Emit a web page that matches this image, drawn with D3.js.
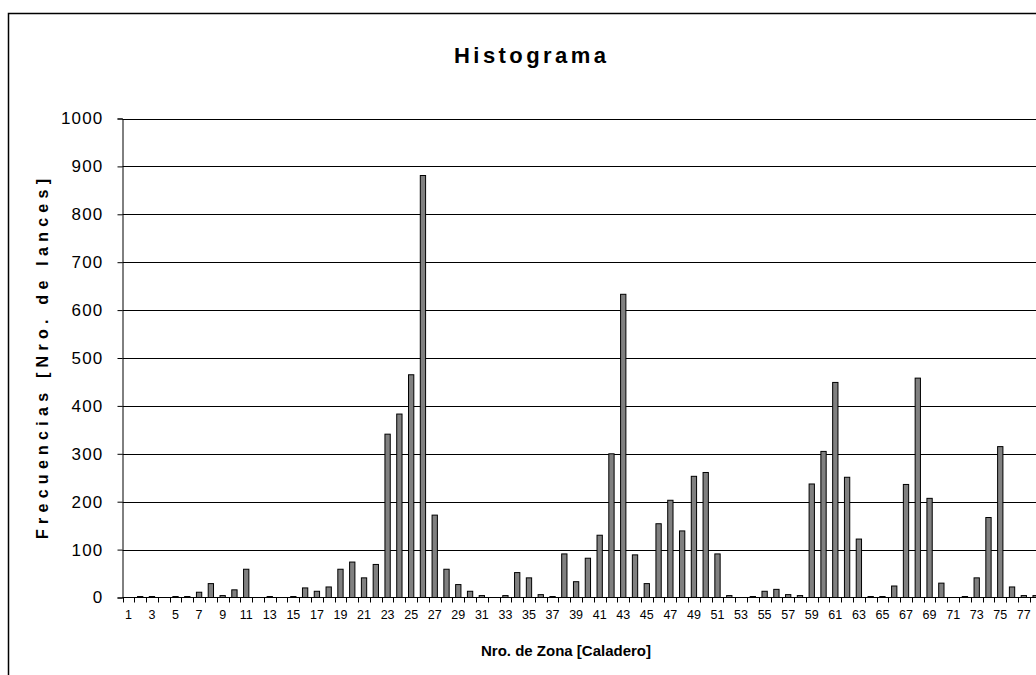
<!DOCTYPE html>
<html>
<head>
<meta charset="utf-8">
<script src="https://cdn.jsdelivr.net/npm/d3@7"></script>
<style>
  html, body { margin: 0; padding: 0; background: #fff; overflow: hidden; }
  svg { display: block; font-family: Arial, "Liberation Sans", sans-serif; }
</style>
</head>
<body>
<svg id="chart" width="1036" height="675"></svg>
<script>
// ---- data ----
const zonas = [1,2,3,4,5,6,7,8,9,10,11,12,13,14,15,16,17,18,19,20,21,22,23,24,25,26,27,28,29,30,31,32,33,34,35,36,37,38,39,40,41,42,43,44,45,46,47,48,49,50,51,52,53,54,55,56,57,58,59,60,61,62,63,64,65,66,67,68,69,70,71,72,73,74,75,76,77,78];
const frecuencias = [0,2,2,0,2,2,11,29,4,16,59,0,2,0,2,20,13,22,59,74,41,69,341,383,465,881,172,59,27,13,4,0,4,52,41,6,2,91,33,82,130,300,633,89,29,154,203,139,253,261,91,4,0,2,13,17,6,4,237,305,449,251,122,2,2,24,236,458,207,30,0,2,41,167,315,22,4,4];
const yTicks = [0,100,200,300,400,500,600,700,800,900,1000];
const xTickLabels = [1,3,5,7,9,11,13,15,17,19,21,23,25,27,29,31,33,35,37,39,41,43,45,47,49,51,53,55,57,59,61,63,65,67,69,71,73,75,77];
const titulo = "Histograma";
const tituloX = "Nro. de Zona [Caladero]";
const tituloY = "Frecuencias [Nro. de lances]";

// ---- layout ----
const svg = d3.select("#chart");
const pLeft = 122.5, pRight = 1041.5, pTop = 118.5, pBottom = 597.5;
const FONT = "Arial, 'Liberation Sans', sans-serif";

svg.append("rect").attr("x", 0).attr("y", 0).attr("width", 1036).attr("height", 675).attr("fill", "#fff");
svg.append("rect").attr("x", 8.5).attr("y", 13.5).attr("width", 1200).attr("height", 800)
  .attr("fill", "none").attr("stroke", "#000").attr("stroke-width", 1.5);

const x = d3.scaleBand().domain(zonas).range([pLeft, pRight]).paddingInner(0.55).paddingOuter(0.275);
const y = d3.scaleLinear().domain([0, 1000]).range([pBottom, pTop]);

// gridlines
svg.append("g").selectAll("line").data(yTicks.filter(d => d > 0)).join("line")
  .attr("x1", pLeft).attr("x2", 1100)
  .attr("y1", d => Math.round(y(d)) + 0.5).attr("y2", d => Math.round(y(d)) + 0.5)
  .attr("stroke", "#000").attr("stroke-width", 1);

// bars
svg.append("g").selectAll("rect").data(zonas.map((z, i) => ({z, v: frecuencias[i]})).filter(d => d.v > 0)).join("rect")
  .attr("x", d => x(d.z))
  .attr("y", d => y(d.v))
  .attr("width", x.bandwidth())
  .attr("height", d => y(0) - y(d.v))
  .attr("fill", "#808080").attr("stroke", "#000").attr("stroke-width", 1);

// y axis
const yAxis = svg.append("g").attr("transform", `translate(${pLeft},0)`)
  .call(d3.axisLeft(y).tickValues(yTicks).tickSize(5).tickPadding(14).tickFormat(d3.format("d")));
yAxis.select(".domain").attr("stroke", "#000");
yAxis.selectAll(".tick line").attr("stroke", "#000");
yAxis.selectAll(".tick text").attr("font-size", 17).attr("font-family", FONT).attr("fill", "#000")
  .attr("letter-spacing", "1.2px");

// x axis line + ticks at category boundaries
const gx = svg.append("g");
gx.append("line").attr("x1", pLeft).attr("x2", 1100).attr("y1", pBottom).attr("y2", pBottom).attr("stroke", "#000");
gx.selectAll("line.tk").data(d3.range(zonas.length + 1)).join("line").attr("class", "tk")
  .attr("x1", i => Math.round(pLeft + i * x.step()) + 0.5).attr("x2", i => Math.round(pLeft + i * x.step()) + 0.5)
  .attr("y1", pBottom).attr("y2", pBottom + 5).attr("stroke", "#000");
const xAxis = svg.append("g").attr("transform", `translate(0,${pBottom})`)
  .call(d3.axisBottom(x).tickValues(xTickLabels).tickSize(0).tickPadding(13));
xAxis.select(".domain").remove();
xAxis.selectAll(".tick text").attr("font-size", 12.5).attr("font-family", FONT).attr("fill", "#000");

// titles
svg.append("text").attr("x", 530).attr("y", 63).attr("text-anchor", "middle").attr("font-family", FONT)
  .attr("font-size", 22).attr("font-weight", "bold").attr("textLength", 152).attr("lengthAdjust", "spacing").text(titulo);
svg.append("text").attr("x", 566).attr("y", 656).attr("text-anchor", "middle").attr("font-family", FONT)
  .attr("font-size", 15).attr("font-weight", "bold").text(tituloX);
svg.append("text").attr("transform", "translate(48,359) rotate(-90)").attr("text-anchor", "middle").attr("font-family", FONT)
  .attr("font-size", 16).attr("font-weight", "bold").attr("textLength", 360).attr("lengthAdjust", "spacing").text(tituloY);
</script>
</body>
</html>
